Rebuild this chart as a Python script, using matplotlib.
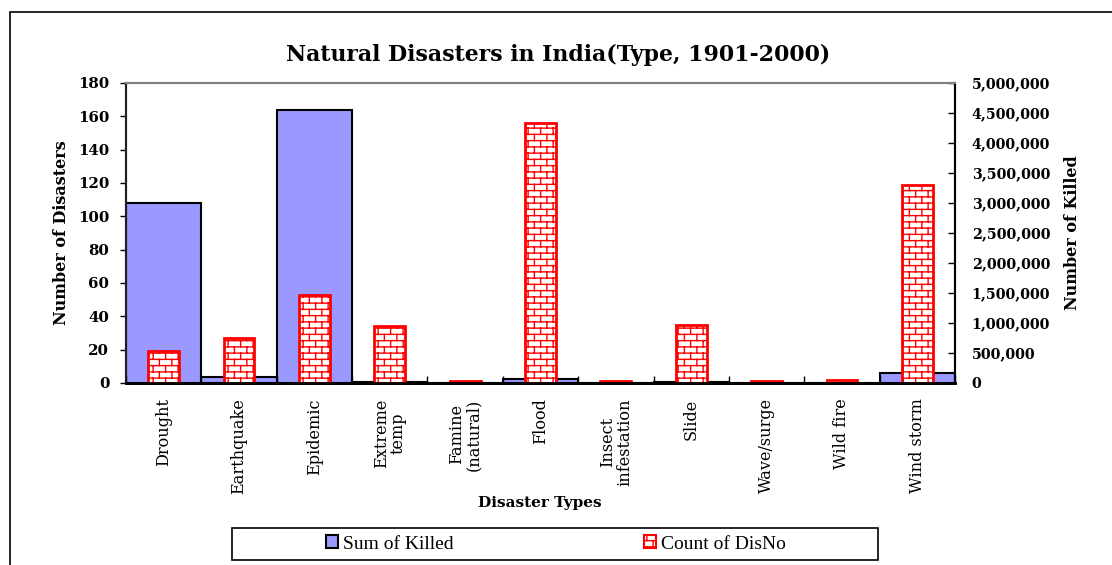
import warnings
warnings.filterwarnings("ignore")
import numpy as np
import matplotlib
matplotlib.use("Agg")
import matplotlib.pyplot as plt
import matplotlib.hatch as mhatch
from matplotlib.path import Path
from matplotlib.patches import Rectangle, Patch
from matplotlib.ticker import FuncFormatter, MultipleLocator

# ---------------- data ----------------
categories = ["Drought", "Earthquake", "Epidemic", "Extreme\ntemp", "Famine\n(natural)",
              "Flood", "Insect\ninfestation", "Slide", "Wave/surge", "Wild fire", "Wind storm"]
count_disno = [19, 27, 53, 34, 1, 156, 1, 35, 1, 2, 119]
sum_killed = [2998000, 105000, 4548000, 20000, 0, 62000, 0, 15000, 0, 0, 175000]
left_ticks = list(range(0, 181, 20))
right_ticks = list(range(0, 5000001, 500000))


# ---------------- brick hatch ----------------
class BrickHatch(mhatch.HatchPatternBase):
    def __init__(self, hatch, density):
        self.segs = []
        if 'b' in hatch:
            r, c = 16, 8
            h, w = 1.0 / r, 1.0 / c
            for i in range(r):
                y = (i + 0.5) * h
                self.segs.append(((0.0, y), (1.0, y)))
            for i in range(r):
                y0 = (i + 0.5) * h
                y1 = y0 + h
                off = 0.25 * w if i % 2 == 0 else 0.75 * w
                for j in range(c):
                    xx = j * w + off
                    if y1 <= 1.0:
                        self.segs.append(((xx, y0), (xx, y1)))
                    else:
                        self.segs.append(((xx, y0), (xx, 1.0)))
                        self.segs.append(((xx, 0.0), (xx, y1 - 1.0)))
        self.num_vertices = len(self.segs) * 2

    def set_vertices_and_codes(self, vertices, codes):
        pts = [p for s in self.segs for p in s]
        vertices[:] = np.array(pts)
        codes[0::2] = Path.MOVETO
        codes[1::2] = Path.LINETO


mhatch._hatch_types.append(BrickHatch)

plt.rcParams['hatch.color'] = '#FF0000'
plt.rcParams['hatch.linewidth'] = 1.0

SERIF = ['DejaVu Serif']

fig = plt.figure(figsize=(11.12, 5.65), dpi=100)
fig.patch.set_facecolor('white')

# outer border
fig.add_artist(Rectangle((10 / 1112, -0.1), 1.2, 1 - 12 / 565 + 0.1,
                         transform=fig.transFigure, fill=False,
                         edgecolor='black', linewidth=1.2))

ax = fig.add_axes([126 / 1112, 1 - 383 / 565, (955 - 126) / 1112, (383 - 83) / 565])
ax2 = ax.twinx()
ax.set_zorder(ax2.get_zorder() + 1)
ax.patch.set_visible(False)
ax2.patch.set_facecolor('#C0C0C0')

x = np.arange(len(categories))

ax2.bar(x, sum_killed, width=1.0, color='#9999FF', edgecolor='black', linewidth=1.5,
        label='Sum of Killed')
ax.bar(x, count_disno, width=0.41, color='white', edgecolor='#FF0000', linewidth=2,
       hatch='b', label='Count of DisNo')

ax.set_xlim(-0.5, len(categories) - 0.5)
ax.set_ylim(0, 180)
ax2.set_ylim(0, 5000000)

ax.set_yticks(left_ticks)
ax2.set_yticks(right_ticks)
ax2.yaxis.set_major_formatter(FuncFormatter(lambda v, p: f"{int(v):,}"))

for lab in ax.get_yticklabels():
    lab.set_fontfamily(SERIF); lab.set_fontweight('bold'); lab.set_fontsize(10.8)
for lab in ax2.get_yticklabels():
    lab.set_fontfamily(SERIF); lab.set_fontweight('bold'); lab.set_fontsize(10.3)

ax.tick_params(axis='y', direction='out', length=4, width=1, pad=8)
ax2.tick_params(axis='y', direction='in', length=5, width=1, pad=12)

ax.set_xticks(x)
ax.set_xticklabels(categories, rotation=90, fontfamily=SERIF, fontsize=11.6,
                   va='top', ha='center', multialignment='center', linespacing=1.0)
ax.tick_params(axis='x', length=0, pad=11)
ax.xaxis.set_minor_locator(MultipleLocator(1, offset=0.5))
ax.tick_params(axis='x', which='minor', direction='in', length=5, width=1)

for a in (ax, ax2):
    a.spines['top'].set_color('#808080')
    a.spines['top'].set_linewidth(1.5)
    a.spines['left'].set_color('#202020')
    a.spines['left'].set_linewidth(1.5)
    a.spines['bottom'].set_color('black')
    a.spines['bottom'].set_linewidth(2)
    a.spines['right'].set_color('black')
    a.spines['right'].set_linewidth(1.5)

ax.set_ylabel('Number of Disasters', fontfamily=SERIF, fontweight='bold', fontsize=11.5)
ax2.set_ylabel('Number of Killed', fontfamily=SERIF, fontweight='bold', fontsize=11.5)
ax.yaxis.set_label_coords(-0.0676, 0.5)
ax2.yaxis.set_label_coords(1.1315, 0.5)

fig.text(558 / 1112, 1 - 55 / 565, 'Natural Disasters in India(Type, 1901-2000)',
         ha='center', va='center', fontfamily=SERIF, fontweight='bold', fontsize=15.8)
fig.text(540 / 1112, 1 - 503 / 565, 'Disaster Types',
         ha='center', va='center', fontfamily=SERIF, fontweight='bold', fontsize=11)

# legend box
fig.add_artist(Rectangle((232 / 1112, 1 - 560 / 565), (878 - 232) / 1112, 32 / 565,
                         transform=fig.transFigure, fill=False, edgecolor='black', linewidth=1.2))
h1 = Patch(facecolor='#9999FF', edgecolor='black', linewidth=1.5)
h2 = Patch(facecolor='white', edgecolor='#FF0000', linewidth=1.5, hatch='b')
leg = fig.legend([h1, h2], ['Sum of Killed', 'Count of DisNo'], loc='center',
                 bbox_to_anchor=(556 / 1112, 1 - 544 / 565), ncol=2, frameon=False,
                 prop={'family': 'Liberation Serif', 'size': 14},
                 handlelength=0.6, handleheight=0.6, handletextpad=0.25, columnspacing=9.8)

fig.savefig('out.png', dpi=100)
